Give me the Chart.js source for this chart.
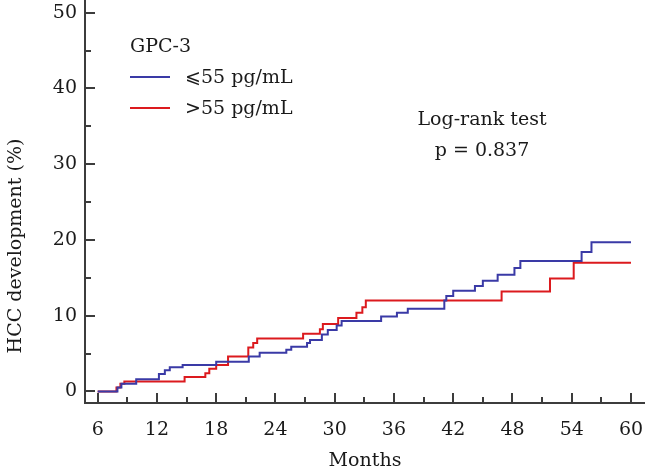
<!DOCTYPE html>
<html>
<head>
<meta charset="utf-8">
<script src="https://cdn.jsdelivr.net/npm/chart.js@4.4.1/dist/chart.umd.min.js"></script>
<style>
  html, body { margin: 0; padding: 0; background: #fff; }
</style>
</head>
<body>
<canvas id="km" width="645" height="476"></canvas>
<script>
// Kumulative HCC-Entwicklung, GPC-3 ≤55 vs >55 pg/mL
const lowMonths = [6, 8.0, 8.4, 9.9, 12.2, 12.8, 13.3, 14.6, 18.0, 21.3, 22.4, 25.1, 25.6, 27.2, 27.5, 28.7, 29.3, 30.2, 30.7, 34.7, 36.3, 37.4, 41.1, 41.3, 42.0, 44.2, 45.0, 46.5, 48.2, 48.8, 55.0, 56.0, 60];
const lowPct    = [0, 0.5, 1.0, 1.6, 2.3, 2.8, 3.2, 3.5, 3.9, 4.6, 5.1, 5.5, 5.9, 6.4, 6.8, 7.5, 8.1, 8.7, 9.3, 9.9, 10.4, 10.9, 12.0, 12.6, 13.3, 13.9, 14.6, 15.4, 16.3, 17.2, 18.4, 19.7, 19.7];

const highMonths = [6, 7.9, 8.3, 8.7, 14.8, 16.9, 17.3, 18.0, 19.2, 21.25, 21.75, 22.15, 26.8, 28.5, 28.8, 30.35, 32.2, 32.8, 33.15, 46.9, 51.8, 54.2, 60];
const highPct    = [0, 0.5, 1.0, 1.3, 1.9, 2.4, 3.0, 3.5, 4.6, 5.8, 6.4, 7.0, 7.6, 8.2, 8.9, 9.7, 10.4, 11.1, 12.0, 13.2, 14.9, 17.0, 17.0];

const seriesNames = ['⩽55 pg/mL', '>55 pg/mL'];
const xTicks = [6, 12, 18, 24, 30, 36, 42, 48, 54, 60];
const yTicks = [0, 10, 20, 30, 40, 50];

const FONT = '"DejaVu Serif", serif';
const AXIS = '#3c3c3c';
const INK = '#1a1a1a';

const pts = (xs, ys) => xs.map((x, i) => ({ x: x, y: ys[i] }));

// Achsen-Ticks nach innen, Achsentitel, Legende, Testergebnis
const extras = {
  id: 'extras',
  afterDraw(chart) {
    const ctx = chart.ctx;
    const xs = chart.scales.x, ys = chart.scales.y;
    const bottom = xs.top, left = ys.right;
    ctx.save();
    ctx.strokeStyle = AXIS;
    ctx.lineWidth = 2;
    ctx.beginPath();
    xTicks.forEach(v => {
      const px = Math.round(xs.getPixelForValue(v));
      ctx.moveTo(px, bottom); ctx.lineTo(px, bottom - 10);
      const mid = v + 3;
      if (mid < 60) {
        const pm = Math.round(xs.getPixelForValue(mid));
        ctx.moveTo(pm, bottom); ctx.lineTo(pm, bottom - 6);
      }
    });
    yTicks.forEach(v => {
      const py = Math.round(ys.getPixelForValue(v));
      ctx.moveTo(left, py); ctx.lineTo(left + 10, py);
      if (v < 50) {
        const pm = Math.round(ys.getPixelForValue(v + 5));
        ctx.moveTo(left, pm); ctx.lineTo(left + 6, pm);
      }
    });
    ctx.stroke();

    ctx.fillStyle = INK;
    ctx.font = '19px ' + FONT;
    ctx.textBaseline = 'middle';

    // y-Achsentitel
    ctx.save();
    ctx.translate(16, 246);
    ctx.rotate(-Math.PI / 2);
    ctx.textAlign = 'center';
    ctx.fillText('HCC development (%)', 0, 0);
    ctx.restore();

    // Legende
    ctx.textAlign = 'left';
    ctx.fillText('GPC-3', 130, 47);
    chart.data.datasets.forEach((ds, i) => {
      const y = 77 + i * 31;
      ctx.strokeStyle = ds.borderColor;
      ctx.lineWidth = 2;
      ctx.beginPath();
      ctx.moveTo(130, y); ctx.lineTo(170, y);
      ctx.stroke();
      ctx.fillText(ds.label, 185, y + 1);
    });

    // Log-rank
    ctx.textAlign = 'center';
    ctx.fillText('Log-rank test', 482, 120);
    ctx.fillText('p = 0.837', 482, 151);
    ctx.restore();
  }
};

new Chart(document.getElementById('km'), {
  type: 'line',
  data: {
    datasets: [
      { label: seriesNames[0], data: pts(lowMonths, lowPct), borderColor: '#3a3aa6', borderWidth: 2, stepped: 'before', pointRadius: 0, fill: false },
      { label: seriesNames[1], data: pts(highMonths, highPct), borderColor: '#dc1a1e', borderWidth: 2, stepped: 'before', pointRadius: 0, fill: false }
    ]
  },
  options: {
    responsive: false,
    animation: false,
    devicePixelRatio: 1,
    layout: { padding: 0 },
    plugins: { legend: { display: false }, tooltip: { enabled: false } },
    scales: {
      x: {
        type: 'linear',
        min: 4.715,
        max: 61.42,
        afterFit: s => { s.height = 73; s.paddingLeft = 0; s.paddingRight = 0; },
        afterBuildTicks: s => { s.ticks = xTicks.map(v => ({ value: v })); },
        grid: { display: false, drawTicks: false },
        border: { display: true, color: AXIS, width: 2 },
        ticks: { color: INK, font: { family: FONT, size: 19 }, padding: 16, maxRotation: 0 },
        title: { display: true, text: 'Months', color: INK, font: { family: FONT, size: 19 }, padding: { top: 14 } }
      },
      y: {
        type: 'linear',
        min: -1.53,
        max: 51.67,
        afterFit: s => { s.width = 85; s.paddingTop = 0; s.paddingBottom = 0; },
        afterBuildTicks: s => { s.ticks = yTicks.map(v => ({ value: v })); },
        grid: { display: false, drawTicks: false },
        border: { display: true, color: AXIS, width: 2 },
        ticks: { color: INK, font: { family: FONT, size: 19 }, padding: 8 }
      }
    }
  },
  plugins: [extras]
});
</script>
</body>
</html>
